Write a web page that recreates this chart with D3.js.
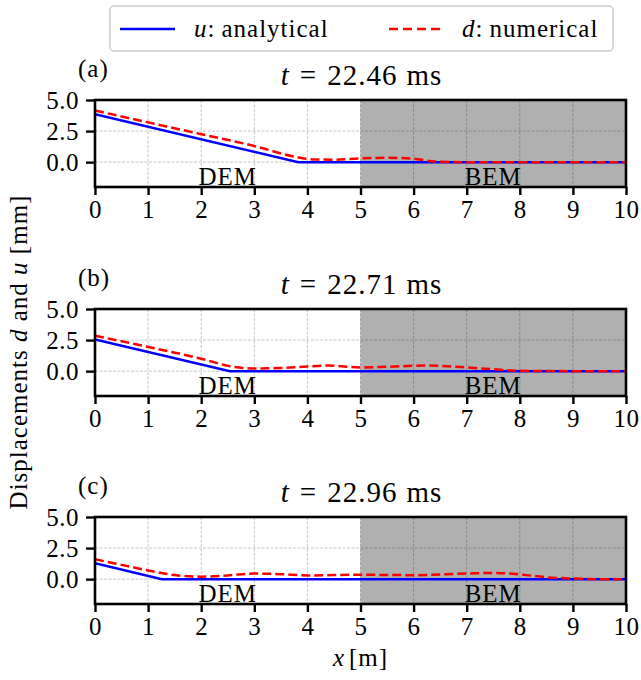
<!DOCTYPE html>
<html lang='en'>
<head>
  <meta charset='UTF-8'>
  <title>Displacements</title>
  <style>
    body { margin: 0; background: #fff; }
    svg text { font-family: 'Liberation Serif', serif; fill: #000; letter-spacing: 1px; }
  </style>
</head>
<body>
  <script src='https://cdn.jsdelivr.net/npm/d3@7/dist/d3.min.js'></script>
  <script>
// chart data
const xTicks = [0, 1, 2, 3, 4, 5, 6, 7, 8, 9, 10];
const yTicks = [0, 2.5, 5.0];
const yTickLabels = ['0.0', '2.5', '5.0'];
const panelLabels = ['(a)', '(b)', '(c)'];
const times = ['22.46', '22.71', '22.96'];
const regions = ['DEM', 'BEM'];

// analytical u
const anaX_a = [0, 3.83, 10];
const anaU_a = [3.85, 0, 0];
const anaX_b = [0, 2.54, 10];
const anaU_b = [2.55, 0, 0];
const anaX_c = [0, 1.26, 10];
const anaU_c = [1.28, 0, 0];

// numerical d
const numX_a = [0, 1, 2, 3, 3.8, 4.1, 4.5, 5, 5.5, 6, 6.4, 7, 8, 9, 10];
const numD_a = [4.15, 3.2, 2.25, 1.3, 0.4, 0.22, 0.2, 0.3, 0.35, 0.28, 0.05, 0, 0, 0, 0];
const numX_b = [0, 1, 2, 2.6, 3, 3.5, 4, 4.4, 5, 5.5, 6.2, 7, 7.5, 8, 9, 10];
const numD_b = [2.85, 1.95, 1.0, 0.35, 0.22, 0.25, 0.38, 0.45, 0.3, 0.35, 0.45, 0.3, 0.15, 0.03, 0, 0];
const numX_c = [0, 0.5, 1, 1.3, 2, 2.5, 3, 3.5, 4, 5, 6, 7, 7.5, 8, 8.5, 9, 9.5, 10];
const numD_c = [1.6, 1.15, 0.7, 0.45, 0.2, 0.3, 0.45, 0.4, 0.3, 0.35, 0.32, 0.45, 0.5, 0.38, 0.15, 0.05, 0, 0];

const anaX = [anaX_a, anaX_b, anaX_c];
const anaU = [anaU_a, anaU_b, anaU_c];
const numX = [numX_a, numX_b, numX_c];
const numD = [numD_a, numD_b, numD_c];

const width = 641, height = 680;
const left = 95, right = 626;
const panelTops = [100, 309, 517];
const panelH = 87;
const fs = 25;

const svg = d3.select('body').append('svg')
  .attr('width', width).attr('height', height);

const x = d3.scaleLinear().domain([0, 10]).range([left, right]);

panelTops.forEach((top, i) => {
  const y = d3.scaleLinear().domain([-2, 5]).range([top + panelH, top]);
  const g = svg.append('g');

  // BEM shaded area
  g.append('rect')
    .attr('x', x(5)).attr('y', top)
    .attr('width', x(10) - x(5)).attr('height', panelH)
    .attr('fill', '#b0b0b0');

  // grid
  g.selectAll('.gx').data(xTicks).enter().append('line')
    .attr('x1', d => x(d)).attr('x2', d => x(d))
    .attr('y1', top).attr('y2', top + panelH)
    .attr('stroke', '#000').attr('stroke-opacity', 0.28)
    .attr('stroke-width', 0.8).attr('stroke-dasharray', '3,1.5');
  g.selectAll('.gy').data(yTicks).enter().append('line')
    .attr('x1', left).attr('x2', right)
    .attr('y1', d => y(d)).attr('y2', d => y(d))
    .attr('stroke', '#000').attr('stroke-opacity', 0.28)
    .attr('stroke-width', 0.8).attr('stroke-dasharray', '3,1.5');

  // clip
  svg.append('clipPath').attr('id', 'clip' + i)
    .append('rect').attr('x', left).attr('y', top)
    .attr('width', right - left).attr('height', panelH);

  const lineA = d3.line().x(d => x(d[0])).y(d => y(d[1]));
  const lineN = d3.line().x(d => x(d[0])).y(d => y(d[1])).curve(d3.curveMonotoneX);

  g.append('path')
    .datum(d3.zip(anaX[i], anaU[i]))
    .attr('clip-path', 'url(#clip' + i + ')')
    .attr('d', lineA)
    .attr('fill', 'none').attr('stroke', '#0000ff').attr('stroke-width', 2.5);

  g.append('path')
    .datum(d3.zip(numX[i], numD[i]))
    .attr('clip-path', 'url(#clip' + i + ')')
    .attr('d', lineN)
    .attr('fill', 'none').attr('stroke', '#ff0000').attr('stroke-width', 2.5)
    .attr('stroke-dasharray', '9,4');

  // DEM / BEM labels
  g.selectAll('.reg').data(regions).enter().append('text')
    .attr('x', (d, k) => x(k === 0 ? 2.5 : 7.5))
    .attr('y', top + panelH - 2)
    .attr('text-anchor', 'middle')
    .style('font-size', fs + 'px')
    .text(d => d);

  // axes
  const xAxis = d3.axisBottom(x).tickValues(xTicks).tickSize(8).tickPadding(5)
    .tickFormat(d3.format('d'));
  const gx = g.append('g').attr('transform', 'translate(0,' + (top + panelH) + ')').call(xAxis);
  const yAxis = d3.axisLeft(y).tickValues(yTicks).tickSize(9).tickPadding(7)
    .tickFormat((d, k) => yTickLabels[k]);
  const gy = g.append('g').attr('transform', 'translate(' + left + ',0)').call(yAxis);
  [gx, gy].forEach(a => {
    a.select('.domain').remove();
    a.selectAll('.tick line').attr('stroke', '#000').attr('stroke-width', 2.4);
    a.selectAll('.tick text')
      .style('font-size', fs + 'px')
      .style('font-family', "'Liberation Serif', serif")
      .style('letter-spacing', '0.5px');
  });

  // frame
  g.append('rect')
    .attr('x', left).attr('y', top)
    .attr('width', right - left).attr('height', panelH)
    .attr('fill', 'none').attr('stroke', '#000').attr('stroke-width', 2.6);

  // title
  const t = g.append('text')
    .attr('x', (left + right) / 2 + 1).attr('y', top - 15)
    .attr('text-anchor', 'middle').style('font-size', '29px');
  t.append('tspan').attr('font-style', 'italic').text('t');
  t.append('tspan').attr('dx', 10).text('=');
  t.append('tspan').attr('dx', 10).text(times[i]);
  t.append('tspan').attr('dx', 9).text('ms');

  g.append('text')
    .attr('x', 78).attr('y', top - 23)
    .style('font-size', fs + 'px')
    .text(panelLabels[i]);
});

// y label
const yl = svg.append('text')
  .attr('transform', 'translate(27,' + ((panelTops[0] + panelTops[2] + panelH) / 2) + ') rotate(-90)')
  .attr('text-anchor', 'middle').style('font-size', fs + 'px');
yl.append('tspan').text('Displacements ');
yl.append('tspan').attr('font-style', 'italic').text('d');
yl.append('tspan').text(' and ');
yl.append('tspan').attr('font-style', 'italic').text('u');
yl.append('tspan').text(' [mm]');

// x label
const xl = svg.append('text')
  .attr('x', (left + right) / 2).attr('y', 666)
  .attr('text-anchor', 'middle').style('font-size', fs + 'px');
xl.append('tspan').attr('font-style', 'italic').text('x');
xl.append('tspan').attr('dx', 4).text('[m]');

// legend
const lg = svg.append('g');
lg.append('rect')
  .attr('x', 110).attr('y', 6).attr('width', 503).attr('height', 45)
  .attr('rx', 4).attr('fill', '#fff').attr('stroke', '#ccc').attr('stroke-width', 1.5);
lg.append('line').attr('x1', 120).attr('x2', 175).attr('y1', 29).attr('y2', 29)
  .attr('stroke', '#0000ff').attr('stroke-width', 2.5);
const l1 = lg.append('text').attr('x', 194).attr('y', 37).style('font-size', fs + 'px');
l1.append('tspan').attr('font-style', 'italic').text('u');
l1.append('tspan').text(':');
l1.append('tspan').attr('dx', 6).text('analytical');
lg.append('line').attr('x1', 389).attr('x2', 441).attr('y1', 29).attr('y2', 29)
  .attr('stroke', '#ff0000').attr('stroke-width', 2.5).attr('stroke-dasharray', '9,5');
const l2 = lg.append('text').attr('x', 462).attr('y', 37).style('font-size', fs + 'px');
l2.append('tspan').attr('font-style', 'italic').text('d');
l2.append('tspan').text(':');
l2.append('tspan').attr('dx', 6).text('numerical');
  </script>
</body>
</html>
